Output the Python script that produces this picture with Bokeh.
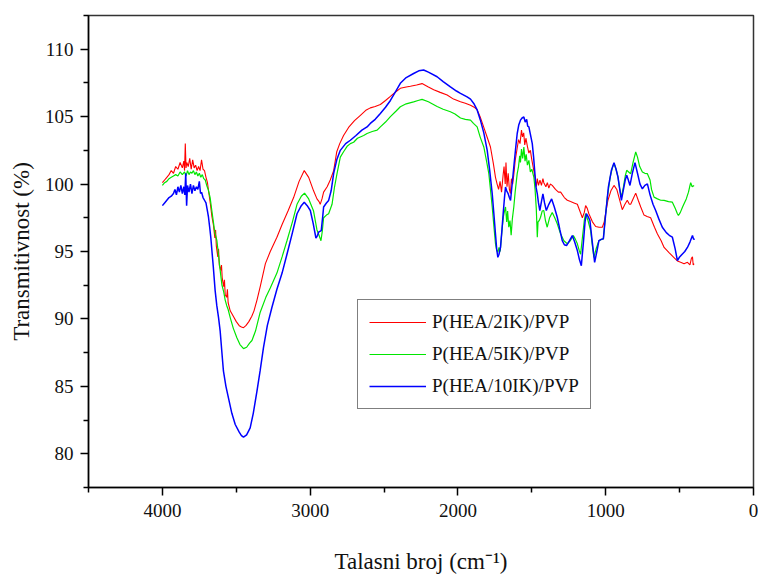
from bokeh.plotting import figure
from bokeh.models import Range1d, FixedTicker, Legend, LegendItem
from bokeh.embed import file_html
from bokeh.resources import INLINE

# ---------------- data (wavenumber cm-1, transmittance %) ----------------
series_names = ["P(HEA/2IK)/PVP", "P(HEA/5IK)/PVP", "P(HEA/10IK)/PVP"]
series_colors = ["#ff0000", "#00e600", "#0000ff"]

x_ticks = [4000, 3000, 2000, 1000, 0]
x_minor = [4500, 3500, 2500, 1500, 500]
y_ticks = [80, 85, 90, 95, 100, 105, 110]
y_minor = [77.5, 82.5, 87.5, 92.5, 97.5, 102.5, 107.5, 112.5]

red_2ik = [
    (4000, 100.1), (3985, 100.3), (3970, 100.5), (3955, 100.7), (3940, 101.0), (3925, 100.8),
    (3910, 101.3), (3895, 101.1), (3880, 101.6), (3865, 101.2), (3855, 101.7), (3850, 101.0),
    (3845, 103.0), (3840, 101.2), (3835, 101.6), (3825, 101.3), (3815, 101.9), (3805, 101.1),
    (3795, 101.8), (3785, 101.2), (3775, 101.4), (3765, 101.0), (3755, 101.3), (3745, 101.0),
    (3735, 101.8), (3725, 101.1), (3715, 101.0), (3705, 100.5), (3695, 100.1), (3685, 99.3),
    (3675, 98.5), (3665, 97.6), (3655, 97.0), (3645, 96.0), (3640, 96.6), (3635, 95.4),
    (3625, 94.6), (3620, 95.2), (3615, 94.0), (3605, 93.6), (3600, 94.0), (3595, 93.0),
    (3585, 92.4), (3580, 92.9), (3575, 91.8), (3565, 91.6), (3560, 92.2), (3555, 91.2),
    (3541, 90.6), (3520, 90.2), (3500, 89.8), (3480, 89.5), (3465, 89.4), (3451, 89.35),
    (3435, 89.5), (3415, 89.8), (3395, 90.2), (3380, 90.6), (3360, 91.4), (3338, 92.4),
    (3303, 94.1), (3270, 95.0), (3225, 96.06), (3190, 97.0), (3150, 98.0), (3112, 99.0),
    (3075, 100.2), (3040, 101.0), (3010, 100.5), (2977, 99.5), (2954, 98.9), (2940, 98.7),
    (2932, 98.5), (2920, 98.9), (2909, 99.4), (2885, 99.8), (2864, 100.3), (2841, 101.0),
    (2820, 102.4), (2800, 103.0), (2774, 103.6), (2740, 104.2), (2700, 104.7), (2660, 105.1),
    (2620, 105.5), (2593, 105.65), (2560, 105.75), (2525, 105.9), (2490, 106.2), (2457, 106.5),
    (2420, 106.85), (2390, 107.1), (2350, 107.2), (2322, 107.25), (2280, 107.35), (2243, 107.45),
    (2200, 107.2), (2164, 107.0), (2120, 106.8), (2073, 106.6), (2030, 106.3), (1983, 106.1),
    (1950, 106.0), (1915, 105.85), (1890, 105.7), (1870, 105.5), (1850, 105.0), (1825, 104.2),
    (1800, 103.4), (1780, 102.75), (1760, 101.5), (1746, 100.5), (1735, 100.0), (1725, 99.6),
    (1715, 100.2), (1705, 99.4), (1695, 100.6), (1688, 101.3), (1680, 100.0), (1675, 101.6),
    (1668, 99.8), (1660, 100.8), (1652, 99.6), (1645, 99.3), (1638, 100.4), (1630, 100.0),
    (1622, 100.7), (1612, 101.8), (1600, 102.6), (1590, 103.3), (1580, 103.0), (1570, 104.0),
    (1563, 103.5), (1555, 103.8), (1548, 102.9), (1540, 103.4), (1530, 102.8), (1520, 102.3),
    (1510, 102.5), (1500, 101.8), (1490, 101.2), (1480, 100.6), (1470, 99.8), (1463, 100.4),
    (1455, 99.9), (1445, 100.3), (1435, 99.9), (1425, 100.4), (1419, 100.1), (1405, 99.8),
    (1395, 100.1), (1385, 99.7), (1375, 100.0), (1362, 99.9), (1340, 99.6), (1320, 99.4),
    (1305, 99.4), (1280, 99.0), (1260, 98.8), (1238, 98.7), (1215, 98.6), (1192, 98.5),
    (1175, 98.0), (1158, 97.5), (1145, 97.9), (1136, 98.4), (1125, 98.2), (1114, 97.8),
    (1090, 97.2), (1068, 96.85), (1045, 96.8), (1023, 96.8), (1010, 97.2), (1001, 97.8),
    (985, 98.8), (965, 99.5), (944, 99.9), (925, 99.6), (910, 99.0), (888, 98.1),
    (870, 98.5), (854, 98.8), (840, 98.5), (831, 98.5), (815, 98.9), (797, 99.33),
    (780, 98.8), (763, 98.3), (741, 97.7), (720, 97.6), (696, 97.5), (670, 96.8),
    (650, 96.3), (625, 95.8), (605, 95.3), (570, 94.9), (538, 94.55), (515, 94.3),
    (493, 94.2), (470, 94.1), (447, 94.2), (430, 94.0), (420, 94.5), (413, 94.6),
    (408, 94.0), (402, 94.1),
]

green_5ik = [
    (4000, 99.9), (3985, 100.1), (3970, 100.2), (3955, 100.4), (3940, 100.5), (3925, 100.6),
    (3910, 100.7), (3895, 100.6), (3880, 100.9), (3865, 100.7), (3850, 100.9), (3840, 100.6),
    (3830, 101.0), (3820, 100.7), (3810, 100.9), (3800, 100.8), (3790, 101.0), (3780, 100.7),
    (3770, 100.9), (3760, 100.6), (3750, 100.8), (3740, 100.5), (3730, 100.7), (3720, 100.4),
    (3710, 100.3), (3700, 99.9), (3690, 99.6), (3677, 99.0), (3665, 98.0), (3655, 97.2),
    (3645, 96.4), (3631, 95.8), (3620, 94.7), (3609, 93.6), (3597, 92.5), (3585, 92.0),
    (3575, 91.4), (3565, 91.0), (3555, 90.7), (3541, 90.1), (3520, 89.3), (3496, 88.6),
    (3475, 88.1), (3451, 87.8), (3430, 87.9), (3410, 88.2), (3394, 88.4), (3370, 89.1),
    (3338, 90.5), (3300, 91.6), (3270, 92.3), (3225, 93.4), (3190, 94.6), (3157, 95.8),
    (3120, 97.2), (3089, 98.5), (3060, 99.1), (3038, 99.33), (3010, 98.9), (2977, 98.0),
    (2954, 96.6), (2940, 96.2), (2927, 95.8), (2918, 96.5), (2909, 97.5), (2890, 97.7),
    (2875, 97.8), (2852, 98.5), (2835, 99.8), (2818, 100.8), (2796, 102.0), (2774, 102.4),
    (2750, 102.8), (2728, 103.0), (2706, 103.1), (2680, 103.4), (2638, 103.6), (2615, 103.75),
    (2580, 103.9), (2547, 104.0), (2525, 104.24), (2490, 104.6), (2457, 105.0), (2420, 105.4),
    (2390, 105.73), (2350, 105.95), (2300, 106.1), (2270, 106.2), (2243, 106.28), (2200, 106.1),
    (2141, 105.75), (2100, 105.55), (2051, 105.36), (2020, 105.2), (1983, 104.9), (1950, 104.8),
    (1915, 104.74), (1895, 104.5), (1870, 104.24), (1850, 103.5), (1825, 102.75), (1808, 101.8),
    (1791, 100.77), (1780, 99.6), (1768, 98.3), (1757, 96.9), (1746, 95.57), (1738, 95.1),
    (1730, 94.94), (1722, 95.3), (1714, 95.0), (1707, 95.94), (1700, 96.8), (1692, 97.6),
    (1685, 98.0), (1678, 98.3), (1670, 97.2), (1664, 98.0), (1656, 96.8), (1648, 97.3),
    (1640, 96.2), (1632, 97.4), (1622, 98.3), (1612, 99.5), (1599, 100.77), (1590, 101.3),
    (1582, 102.1), (1577, 101.6), (1570, 102.6), (1562, 101.9), (1554, 102.75), (1546, 101.7),
    (1538, 102.2), (1530, 101.4), (1520, 101.76), (1510, 100.9), (1500, 101.1), (1486, 100.5),
    (1478, 99.6), (1470, 98.2), (1466, 97.0), (1463, 96.06), (1458, 97.2), (1450, 97.3),
    (1441, 97.54), (1430, 98.0), (1419, 98.04), (1408, 97.3), (1396, 96.8), (1380, 97.5),
    (1362, 97.9), (1345, 97.5), (1328, 97.05), (1305, 96.3), (1283, 95.8), (1260, 95.57),
    (1240, 95.8), (1219, 96.18), (1205, 95.9), (1192, 95.57), (1180, 95.1), (1170, 94.8),
    (1158, 96.0), (1145, 97.3), (1136, 97.8), (1120, 97.3), (1102, 96.55), (1090, 95.4),
    (1080, 94.57), (1065, 95.2), (1046, 95.8), (1030, 95.9), (1016, 95.94), (1005, 97.3),
    (989, 99.03), (970, 100.5), (955, 101.2), (944, 101.52), (930, 101.1), (917, 100.52),
    (905, 99.6), (894, 99.03), (880, 99.8), (868, 100.6), (858, 101.02), (845, 100.9),
    (831, 100.77), (815, 101.6), (797, 102.38), (785, 102.0), (770, 101.3), (752, 100.9),
    (735, 100.8), (718, 100.77), (700, 100.3), (690, 99.6), (673, 99.03), (650, 98.9),
    (628, 98.8), (605, 98.79), (575, 98.7), (549, 98.66), (530, 98.2), (515, 97.8),
    (508, 97.67), (495, 97.9), (480, 98.3), (470, 98.54), (455, 98.9), (440, 99.4),
    (432, 99.8), (425, 100.1), (415, 99.8), (402, 99.9),
]

blue_10ik = [
    (4000, 98.4), (3985, 98.6), (3970, 98.8), (3955, 99.0), (3940, 99.1), (3925, 99.3),
    (3915, 99.6), (3905, 99.2), (3895, 99.8), (3885, 99.4), (3875, 99.9), (3865, 99.3),
    (3855, 99.8), (3848, 99.2), (3842, 100.8), (3836, 98.4), (3830, 99.9), (3820, 99.4),
    (3810, 100.0), (3800, 99.3), (3790, 99.9), (3780, 99.5), (3770, 99.8), (3760, 99.6),
    (3750, 100.2), (3742, 99.3), (3735, 99.4), (3725, 99.0), (3715, 98.8), (3705, 98.6),
    (3695, 98.0), (3688, 97.54), (3680, 96.8), (3672, 96.0), (3665, 95.07), (3655, 93.8),
    (3643, 92.1), (3632, 91.0), (3620, 90.1), (3609, 89.1), (3598, 87.6), (3587, 86.14),
    (3570, 85.0), (3553, 84.15), (3530, 83.0), (3507, 82.17), (3480, 81.6), (3465, 81.35),
    (3451, 81.23), (3430, 81.4), (3406, 81.92), (3385, 83.0), (3360, 84.65), (3338, 86.2),
    (3316, 87.87), (3290, 89.5), (3259, 90.85), (3225, 92.2), (3190, 93.4), (3157, 94.8),
    (3120, 96.4), (3089, 97.8), (3060, 98.4), (3040, 98.66), (3020, 98.4), (2999, 98.04),
    (2980, 97.1), (2961, 96.0), (2950, 96.2), (2943, 96.43), (2925, 96.55), (2915, 97.6),
    (2909, 98.3), (2890, 98.6), (2875, 98.79), (2858, 99.5), (2841, 100.8), (2820, 101.8),
    (2796, 102.5), (2760, 103.0), (2728, 103.25), (2690, 103.6), (2650, 104.0), (2615, 104.24),
    (2593, 104.5), (2560, 104.8), (2525, 105.24), (2490, 105.7), (2457, 106.2), (2420, 106.9),
    (2390, 107.47), (2350, 107.9), (2300, 108.2), (2265, 108.4), (2232, 108.46), (2200, 108.3),
    (2141, 107.96), (2100, 107.6), (2051, 107.2), (2010, 106.9), (1983, 106.73), (1938, 106.47),
    (1915, 106.3), (1893, 105.98), (1870, 105.5), (1848, 104.74), (1825, 103.8), (1802, 102.5),
    (1785, 101.0), (1768, 99.28), (1757, 97.8), (1746, 96.3), (1738, 95.2), (1730, 94.57),
    (1722, 94.8), (1712, 95.3), (1703, 96.5), (1694, 97.8), (1685, 99.0), (1678, 99.78),
    (1670, 99.5), (1660, 99.28), (1652, 99.0), (1644, 98.79), (1635, 99.8), (1622, 101.26),
    (1610, 102.6), (1599, 103.75), (1588, 104.4), (1577, 104.74), (1566, 104.9), (1554, 104.98),
    (1545, 104.6), (1535, 104.8), (1528, 104.3), (1520, 104.24), (1510, 103.7), (1497, 103.0),
    (1488, 102.0), (1481, 101.02), (1472, 99.8), (1463, 99.28), (1455, 98.6), (1446, 98.04),
    (1435, 98.7), (1425, 99.28), (1414, 98.6), (1402, 98.04), (1385, 98.5), (1366, 98.9),
    (1348, 98.3), (1328, 97.54), (1310, 96.6), (1294, 95.8), (1280, 95.5), (1265, 95.44),
    (1245, 95.8), (1226, 96.18), (1210, 95.7), (1192, 95.07), (1178, 94.4), (1165, 93.95),
    (1150, 95.8), (1140, 97.2), (1131, 97.8), (1120, 97.6), (1107, 97.3), (1090, 95.6),
    (1075, 94.2), (1060, 95.0), (1046, 95.8), (1030, 95.9), (1016, 95.94), (1000, 97.8),
    (982, 99.78), (962, 101.0), (944, 101.59), (930, 101.1), (917, 100.52), (905, 99.6),
    (894, 98.79), (880, 99.6), (868, 100.3), (858, 100.65), (847, 100.3), (836, 99.9),
    (820, 100.8), (802, 101.59), (785, 100.8), (768, 100.0), (752, 99.65), (735, 99.9),
    (718, 100.02), (700, 99.2), (680, 98.5), (662, 98.04), (640, 97.4), (617, 96.8),
    (590, 96.4), (570, 96.2), (549, 96.06), (530, 95.2), (515, 94.32), (500, 94.6),
    (481, 94.82), (465, 95.0), (447, 95.3), (430, 95.7), (413, 96.18), (405, 95.9),
    (398, 95.94),
]

all_series = [red_2ik, green_5ik, blue_10ik]
line_widths = [1.1, 1.2, 1.5]

FONT = "Liberation Serif"

# ---------------- figure ----------------
p = figure(width=758, height=577, output_backend="svg", toolbar_location=None,
           x_range=Range1d(4500, 0), y_range=Range1d(77.5, 112.5),
           min_border_left=88, min_border_right=5, min_border_top=15, min_border_bottom=90)
p.background_fill_color = "white"
p.border_fill_color = "white"
p.outline_line_color = "#333333"
p.outline_line_width = 1.5
p.xgrid.visible = False
p.ygrid.visible = False

items = []
for name, color, lw, data in zip(series_names, series_colors, line_widths, all_series):
    wn = [d[0] for d in data]
    tr = [d[1] for d in data]
    r = p.line(wn, tr, line_color=color, line_width=lw)
    items.append(LegendItem(label=name, renderers=[r]))

# axes
for ax in (p.xaxis[0], p.yaxis[0]):
    ax.axis_line_color = "black"
    ax.axis_line_width = 1.5
    ax.major_tick_line_color = "black"
    ax.major_tick_line_width = 1.5
    ax.minor_tick_line_color = "black"
    ax.minor_tick_line_width = 1.5
    ax.major_tick_out = 8
    ax.major_tick_in = 0
    ax.minor_tick_out = 5
    ax.minor_tick_in = 0
    ax.major_label_text_font = FONT
    ax.major_label_text_font_size = "19px"
    ax.major_label_text_color = "#111111"
    ax.axis_label_text_font = FONT
    ax.axis_label_text_font_style = "normal"
    ax.axis_label_text_font_size = "23px"
    ax.axis_label_text_color = "#111111"

p.xaxis[0].ticker = FixedTicker(ticks=x_ticks, minor_ticks=x_minor)
p.yaxis[0].ticker = FixedTicker(ticks=y_ticks, minor_ticks=y_minor)
p.xaxis[0].major_label_standoff = 8
p.yaxis[0].major_label_standoff = 7
p.yaxis[0].axis_label = "Transmitivnost (%)"
p.yaxis[0].axis_label_standoff = 8
p.xaxis[0].axis_label = "Talasni broj (cm\u207b\u00b9)"
p.xaxis[0].axis_label_standoff = 29

legend = Legend(items=items, location=(269, 78), margin=0, padding=11, spacing=10,
                glyph_width=57, glyph_height=22, label_height=22, label_standoff=6,
                label_text_font=FONT, label_text_font_size="19px", label_text_color="#111111",
                border_line_color="black", border_line_width=1.2,
                background_fill_color="white", background_fill_alpha=1.0)
p.add_layout(legend)

open("out.html", "w").write(file_html(p, INLINE))
